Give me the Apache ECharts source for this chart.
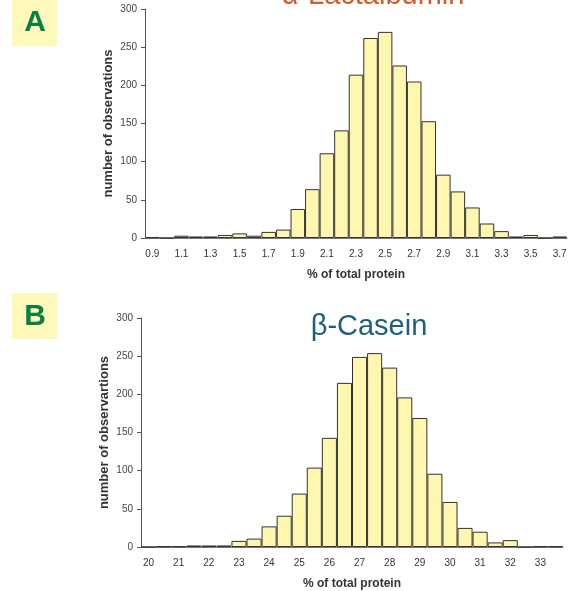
<!DOCTYPE html>
<html>
<head>
<meta charset="utf-8">
<script src="https://cdn.jsdelivr.net/npm/echarts@6/dist/echarts.min.js"></script>
<style>html,body{margin:0;padding:0;background:#fff}#c{width:576px;height:591px}</style>
</head>
<body>
<div id="c"></div>
<script>
const catsA = ['0.9','1.0','1.1','1.2','1.3','1.4','1.5','1.6','1.7','1.8','1.9','2.0','2.1','2.2','2.3','2.4','2.5','2.6','2.7','2.8','2.9','3.0','3.1','3.2','3.3','3.4','3.5','3.6','3.7'];
const valsA = [1,0,3,2,2,4,6,3,8,11,38,64,111,141,214,262,270,226,205,153,83,61,40,19,9,2,4,0,2];
const catsB = ['20','20.5','21','21.5','22','22.5','23','23.5','24','24.5','25','25.5','26','26.5','27','27.5','28','28.5','29','29.5','30','30.5','31','31.5','32','32.5','33','33.5'];
const valsB = [0,1,1,2,2,2,8,11,27,41,70,104,143,215,249,254,235,196,169,96,59,25,20,6,9,0,1,1];
const titleA = 'α-Lactalbumin';
const titleB = 'β-Casein';
const yNameA = 'number of observations';
const yNameB = 'number of observartions';
const xName = '% of total protein';

const FONT = 'Liberation Sans, Arial, Helvetica, sans-serif';
const axisGray = '#555';

function xAxis(gi, cats) {
  return {
    type: 'category', gridIndex: gi, data: cats,
    name: xName, nameLocation: 'middle', nameGap: 31, nameMoveOverlap: false,
    nameTextStyle: {fontFamily: FONT, fontSize: 12, fontWeight: 'bold', color: '#333'},
    axisLine: {lineStyle: {color: '#777', width: 1}},
    axisTick: {interval: 0, length: 4, lineStyle: {color: '#555'}},
    axisLabel: {interval: 1, fontFamily: FONT, fontSize: 10, color: '#333', margin: 11}
  };
}
function yAxis(gi, nm) {
  return {
    type: 'value', gridIndex: gi, min: 0, max: 300, interval: 50,
    name: nm, nameLocation: 'middle', nameGap: 30, nameMoveOverlap: false,
    nameTextStyle: {fontFamily: FONT, fontSize: 13, fontWeight: 'bold', color: '#333'},
    axisLine: {show: true, lineStyle: {color: axisGray, width: 1}},
    axisTick: {show: true, length: 4, lineStyle: {color: axisGray}},
    axisLabel: {fontFamily: FONT, fontSize: 10, color: '#444', margin: 8},
    splitLine: {show: false}
  };
}
const barStyle = {color: '#fff6b0', borderColor: '#333', borderWidth: 1};

const chart = echarts.init(document.getElementById('c'), null, {renderer: 'canvas'});
chart.setOption({
  animation: false,
  backgroundColor: '#fff',
  title: [
    {text: titleA, left: 368, top: -24, textAlign: 'center', textStyle: {fontFamily: FONT, fontSize: 29, fontWeight: 'normal', color: '#d35a2a'}},
    {text: titleB, left: 364, top: 307, textAlign: 'center', textStyle: {fontFamily: FONT, fontSize: 29, fontWeight: 'normal', color: '#1b6179'}}
  ],
  grid: [
    {left: 145, top: 9, width: 422, height: 229},
    {left: 141, top: 318, width: 422, height: 230}
  ],
  xAxis: [xAxis(0, catsA), xAxis(1, catsB)],
  yAxis: [yAxis(0, yNameA), yAxis(1, yNameB)],
  series: [
    {type: 'bar', xAxisIndex: 0, yAxisIndex: 0, data: valsA, barCategoryGap: '0%', itemStyle: barStyle},
    {type: 'bar', xAxisIndex: 1, yAxisIndex: 1, data: valsB, barCategoryGap: '0%', itemStyle: barStyle}
  ],
  graphic: [
    {type: 'rect', shape: {x: 12, y: 0, width: 45, height: 46}, style: {fill: '#fff8bb'}},
    {type: 'text', x: 35, y: 23, style: {text: 'A', fontFamily: FONT, fontSize: 30, fontWeight: 'bold', fill: '#0b7d46', align: 'center', verticalAlign: 'middle'}},
    {type: 'rect', shape: {x: 12, y: 293, width: 45, height: 46}, style: {fill: '#fff8bb'}},
    {type: 'text', x: 35, y: 317, style: {text: 'B', fontFamily: FONT, fontSize: 30, fontWeight: 'bold', fill: '#0b7d46', align: 'center', verticalAlign: 'middle'}}
  ]
});
</script>
</body>
</html>
